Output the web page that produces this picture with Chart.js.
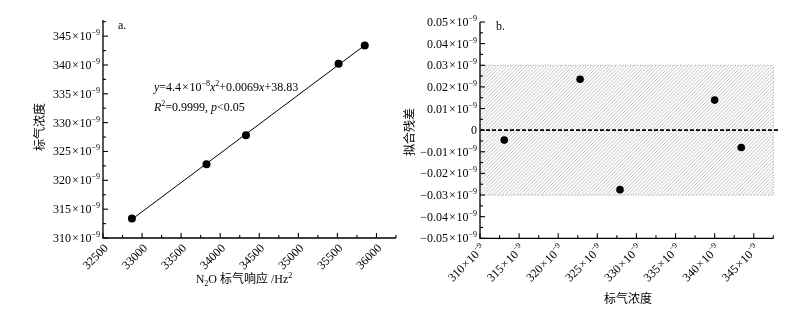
<!DOCTYPE html>
<html><head><meta charset="utf-8">
<script src="https://cdn.jsdelivr.net/npm/chart.js@4.4.0/dist/chart.umd.min.js"></script>
<style>
html,body{margin:0;padding:0;background:#fff;}
#wrap{position:relative;width:795px;height:311px;overflow:hidden;background:#fff;}
canvas{position:absolute;top:0;}
#ca{left:0;width:400px;height:311px;}
#cb{left:400px;width:395px;height:311px;}
</style></head><body>
<div id="wrap"><canvas id="ca" width="400" height="311"></canvas><canvas id="cb" width="395" height="311"></canvas></div>
<script>
// ---- data (panel a) ----
const responseHz = [32870, 33825, 34330, 35515, 35850];   // N2O standard gas response /Hz^2
const stdConc    = [313.4, 322.8, 327.8, 340.2, 343.4];   // standard concentration (x10^-9)
const xTicksA    = [32500, 33000, 33500, 34000, 34500, 35000, 35500, 36000];
const yTicksA    = [310, 315, 320, 325, 330, 335, 340, 345];
// ---- data (panel b) ----
const residConc  = [313.1, 322.8, 327.9, 340.0, 343.4];
const residuals  = [-0.0046, 0.0235, -0.0275, 0.0139, -0.0080]; // (x10^-9)
const xTicksB    = [310, 315, 320, 325, 330, 335, 340, 345];
const yTicksB    = [-0.05, -0.04, -0.03, -0.02, -0.01, 0, 0.01, 0.02, 0.03, 0.04, 0.05];
const bandLimit  = [-0.03, 0.03];

const SERIF = '"Liberation Serif","Times New Roman",serif';
const CJK = '"Noto Sans CJK SC","Noto Sans CJK JP",sans-serif';
function fnt(s, it, cjk){ return (it ? 'italic ' : '') + s + 'px ' + (cjk ? CJK : SERIF + ',' + CJK); }
function segW(ctx, g){ ctx.font = fnt(g.s || 12, g.it, g.cjk); return ctx.measureText(g.t).width + (g.pl||0) + (g.pr||0); }
function richW(ctx, segs){ return segs.reduce((a,g)=>a+segW(ctx,g),0); }
function richDraw(ctx, segs, x, y){
  ctx.textAlign='left'; ctx.textBaseline='alphabetic'; ctx.fillStyle='#000';
  let cx = x;
  segs.forEach(g=>{
    ctx.font = fnt(g.s||12, g.it, g.cjk);
    cx += (g.pl||0);
    ctx.fillText(g.t, cx, y + (g.dy||0));
    cx += ctx.measureText(g.t).width + (g.pr||0);
  });
}
function sciSegs(num){ return [{t:num},{t:'×',pl:0.8,pr:0.8},{t:'10'},{t:'−9',s:8,dy:-5}]; }
function minorVals(major, min, max){
  const st = major[1]-major[0], out=[];
  for (let i=0;i<major.length-1;i++) out.push((major[i]+major[i+1])/2);
  if (major[0]-st/2 >= min-1e-9) out.push(major[0]-st/2);
  if (major[major.length-1]+st/2 <= max+1e-9) out.push(major[major.length-1]+st/2);
  return out;
}
function drawFrame(chart, cfg){
  const ctx = chart.ctx, ca = chart.chartArea, xs = chart.scales.x, ys = chart.scales.y;
  ctx.save();
  ctx.strokeStyle='#000'; ctx.lineWidth=1.3;
  ctx.beginPath(); ctx.moveTo(ca.left, ca.top); ctx.lineTo(ca.left, ca.bottom); ctx.lineTo(ca.right, ca.bottom); ctx.stroke();
  ctx.lineWidth=1.1;
  const tick=(v,len,isY)=>{
    ctx.beginPath();
    if (isY){ const p=ys.getPixelForValue(v); ctx.moveTo(ca.left,p); ctx.lineTo(ca.left+len,p); }
    else { const p=xs.getPixelForValue(v); ctx.moveTo(p,ca.bottom); ctx.lineTo(p,ca.bottom-len); }
    ctx.stroke();
  };
  cfg.yMajor.forEach(v=>tick(v,5,true));
  minorVals(cfg.yMajor, ys.min, ys.max).forEach(v=>tick(v,3,true));
  cfg.xMajor.forEach(v=>tick(v,5,false));
  minorVals(cfg.xMajor, xs.min, xs.max).forEach(v=>tick(v,3,false));
  // y labels
  cfg.yMajor.forEach(v=>{
    const segs = cfg.yLabel(v), w = richW(ctx, segs), p = ys.getPixelForValue(v);
    richDraw(ctx, segs, ca.left-3-w, p+4);
  });
  // x labels rotated 45
  cfg.xMajor.forEach(v=>{
    const segs = cfg.xLabel(v), w = richW(ctx, segs), p = xs.getPixelForValue(v);
    ctx.save(); ctx.translate(p+3, ca.bottom+8); ctx.rotate(-Math.PI/4);
    richDraw(ctx, segs, -w, 4); ctx.restore();
  });
  // y title
  ctx.save(); ctx.translate(cfg.yTitlePos[0], cfg.yTitlePos[1]); ctx.rotate(-Math.PI/2);
  ctx.font = fnt(12,false,true); ctx.textAlign='center'; ctx.textBaseline='middle'; ctx.fillStyle='#000';
  ctx.fillText(cfg.yTitle, 0, 0); ctx.restore();
  // x title
  const tw = richW(ctx, cfg.xTitle);
  richDraw(ctx, cfg.xTitle, cfg.xTitlePos[0]-tw/2, cfg.xTitlePos[1]);
  ctx.restore();
}

// ---- fit line (least squares from the data) ----
const n = responseHz.length;
const mx = responseHz.reduce((a,b)=>a+b,0)/n, my = stdConc.reduce((a,b)=>a+b,0)/n;
let sxy=0, sxx=0; for (let i=0;i<n;i++){ sxy+=(responseHz[i]-mx)*(stdConc[i]-my); sxx+=(responseHz[i]-mx)**2; }
const slope = sxy/sxx, icpt = my - slope*mx;
const xLo = Math.min(...responseHz), xHi = Math.max(...responseHz);

const pluginA = {
  id:'frameA',
  afterDraw(chart){
    drawFrame(chart, {
      xMajor: xTicksA, yMajor: yTicksA,
      xLabel: v=>[{t:String(v)}],
      yLabel: v=>sciSegs(String(v)),
      yTitle: '标气浓度', yTitlePos:[39,127],
      xTitle: [{t:'N'},{t:'2',s:8,dy:3},{t:'O '},{t:'标气响应',cjk:true},{t:' /Hz'},{t:'2',s:8,dy:-5}],
      xTitlePos:[244,283]
    });
    const ctx = chart.ctx, ca = chart.chartArea;
    ctx.save();
    richDraw(ctx, [{t:'a.'}], ca.left+15, ca.top+9);
    richDraw(ctx, [{t:'y',it:true},{t:'=4.4'},{t:'×',pl:0.8,pr:0.8},{t:'10'},{t:'−8',s:8,dy:-5},{t:'x',it:true},{t:'2',s:8,dy:-5},{t:'+0.0069'},{t:'x',it:true},{t:'+38.83'}], ca.left+51, ca.top+71);
    richDraw(ctx, [{t:'R',it:true},{t:'2',s:8,dy:-5},{t:'=0.9999, '},{t:'p',it:true},{t:'<0.05'}], ca.left+51, ca.top+91);
    ctx.restore();
  }
};

new Chart(document.getElementById('ca'), {
  type:'scatter',
  data:{ datasets:[
    { type:'line', data:[{x:xLo,y:icpt+slope*xLo},{x:xHi,y:icpt+slope*xHi}], borderColor:'#000', borderWidth:1, pointRadius:0, fill:false },
    { data: responseHz.map((x,i)=>({x, y:stdConc[i]})), backgroundColor:'#000', borderWidth:0, pointRadius:4, pointHoverRadius:4 }
  ]},
  options:{
    responsive:false, animation:false, events:[],
    layout:{ padding:{ left:103, top:20, right:0, bottom:73 } },
    plugins:{ legend:{display:false}, tooltip:{enabled:false} },
    scales:{
      x:{ type:'linear', display:false, min:32500, max:36250 },
      y:{ type:'linear', display:false, min:310, max:347.8 }
    }
  },
  plugins:[pluginA]
});

const pluginB = {
  id:'frameB',
  beforeDatasetsDraw(chart){
    const ctx = chart.ctx, ca = chart.chartArea, ys = chart.scales.y;
    const yt = ys.getPixelForValue(bandLimit[1]), yb = ys.getPixelForValue(bandLimit[0]);
    ctx.save();
    ctx.beginPath(); ctx.rect(ca.left, yt, ca.right-ca.left, yb-yt); ctx.clip();
    ctx.strokeStyle='#9a9a9a'; ctx.lineWidth=0.6;
    const h = yb-yt;
    for (let k = ca.left - h; k < ca.right + 4; k += 3.6){
      ctx.beginPath(); ctx.moveTo(k, yb); ctx.lineTo(k+h, yt); ctx.stroke();
    }
    ctx.restore();
    ctx.save();
    ctx.strokeStyle='#888'; ctx.lineWidth=0.8; ctx.setLineDash([1,1.5]);
    ctx.beginPath(); ctx.moveTo(ca.left, yt); ctx.lineTo(ca.right, yt); ctx.lineTo(ca.right, yb); ctx.lineTo(ca.left, yb); ctx.stroke();
    ctx.restore();
    const y0 = ys.getPixelForValue(0);
    ctx.save(); ctx.strokeStyle='#000'; ctx.lineWidth=1.6; ctx.setLineDash([4,2]);
    ctx.beginPath(); ctx.moveTo(ca.left, y0); ctx.lineTo(ca.right+5, y0); ctx.stroke(); ctx.restore();
  },
  afterDraw(chart){
    drawFrame(chart, {
      xMajor: xTicksB, yMajor: yTicksB,
      xLabel: v=>sciSegs(String(v)),
      yLabel: v=>{
        if (Math.abs(v)<1e-12) return [{t:'0'}];
        return sciSegs((v<0?'−':'') + Math.abs(v).toFixed(2));
      },
      yTitle: '拟合残差', yTitlePos:[9,132],
      xTitle: [{t:'标气浓度',cjk:true}],
      xTitlePos:[228,303]
    });
    const ctx = chart.ctx, ca = chart.chartArea;
    richDraw(ctx, [{t:'b.'}], ca.left+16, ca.top+8);
  }
};

new Chart(document.getElementById('cb'), {
  type:'scatter',
  data:{ datasets:[
    { data: residConc.map((x,i)=>({x, y:residuals[i]})), backgroundColor:'#000', borderWidth:0, pointRadius:3.8, pointHoverRadius:3.8 }
  ]},
  options:{
    responsive:false, animation:false, events:[],
    layout:{ padding:{ left:80, top:22, right:21.7, bottom:72.7 } },
    plugins:{ legend:{display:false}, tooltip:{enabled:false} },
    scales:{
      x:{ type:'linear', display:false, min:310, max:347.5 },
      y:{ type:'linear', display:false, min:-0.05, max:0.05 }
    }
  },
  plugins:[pluginB]
});
</script>
</body></html>
